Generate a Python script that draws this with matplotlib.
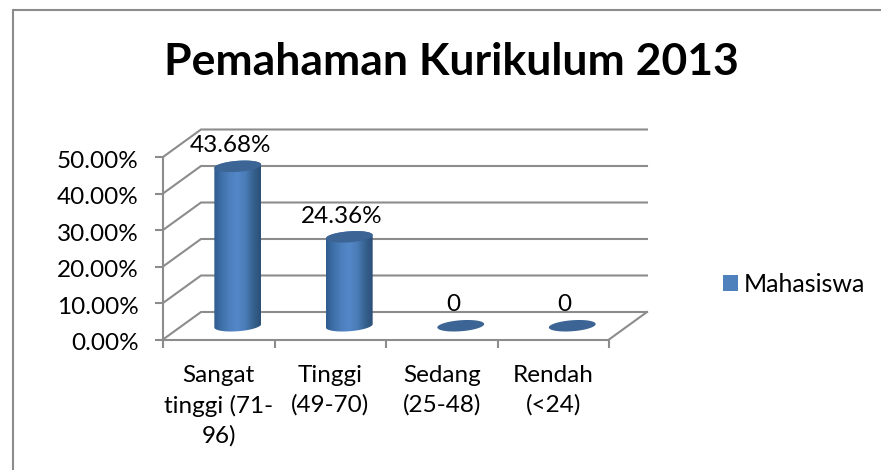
import numpy as np
import matplotlib
matplotlib.use("Agg")
import matplotlib.pyplot as plt
from matplotlib.patches import Polygon, Patch
from matplotlib.lines import Line2D
from matplotlib.colors import LinearSegmentedColormap
from matplotlib.transforms import ScaledTranslation

categories = ["Sangat\ntinggi (71-\n96)", "Tinggi\n(49-70)", "Sedang\n(25-48)", "Rendah\n(<24)"]
series_name = "Mahasiswa"
values = [43.68, 24.36, 0, 0]
value_labels = ["43.68%", "24.36%", "0", "0"]
y_ticks = [0, 10, 20, 30, 40, 50]
y_tick_labels = ["0.00%", "10.00%", "20.00%", "30.00%", "40.00%", "50.00%"]
title = "Pemahaman Kurikulum 2013"

W, H = 881, 470
plt.rcParams['font.family'] = ['Lato', 'DejaVu Sans']
fig = plt.figure(figsize=(W / 100, H / 100), dpi=100)
fig.patch.set_facecolor('white')

L, R, T, B = 163, 609, 157, 339.5
ax = fig.add_axes([L / W, 1 - B / H, (R - L) / W, (B - T) / H])
ax.set_xlim(0, 4)
ax.set_ylim(0, 50)
ax.patch.set_alpha(0)

DX = 38 / ((R - L) / 4)           # depth shift in category units
DY = 27.5 / ((B - T) / 50)        # depth shift in value units
GRID = '#8c8c8c'
LW = 1.5


def proj(x, y, d):
    return x + DX * d, y + DY * d


# walls and floor
for v in y_ticks:
    x0, y0 = proj(0, v, 0)
    x1, y1 = proj(0, v, 1)
    x2, y2 = proj(4, v, 1)
    ax.plot([x0, x1, x2], [y0, y1, y2], color=GRID, lw=LW, clip_on=False,
            solid_joinstyle='miter', zorder=1)
x0, y0 = proj(4, 0, 0)
x1, y1 = proj(4, 0, 1)
ax.plot([x0, x1], [y0, y1], color=GRID, lw=LW, clip_on=False, zorder=1)

cmap = LinearSegmentedColormap.from_list(
    'cyl', ['#2f5c90', '#3f70a9', '#4d80bd', '#5487c8', '#4a7cb8', '#36628f', '#2b4f78'])
grad = np.linspace(0, 1, 256).reshape(1, -1)

RX = 0.21                         # radius in category units
RY = 5.5 / ((B - T) / 50)         # ellipse half height
TILT = 1.7 / ((B - T) / 50)       # right side rises
t = np.linspace(0, 2 * np.pi, 121)


def ellipse(cx, cy):
    return np.column_stack([cx + RX * np.cos(t),
                            cy + RY * np.sin(t) + TILT * np.cos(t)])


for i, v in enumerate(values):
    cx, base = proj(i + 0.5, 0, 0.5)
    top = base + v
    if v > 0:
        tb = np.linspace(np.pi, 2 * np.pi, 60)
        tt = np.linspace(0, np.pi, 60)
        lower = np.column_stack([cx + RX * np.cos(tb),
                                 base + RY * np.sin(tb) + TILT * np.cos(tb)])
        upper = np.column_stack([cx + RX * np.cos(tt),
                                 top + RY * np.sin(tt) + TILT * np.cos(tt)])
        body = Polygon(np.vstack([lower, upper]), closed=True, facecolor='none',
                       edgecolor='none', transform=ax.transData)
        ax.add_patch(body)
        im = ax.imshow(grad, cmap=cmap, aspect='auto', zorder=2,
                       extent=[cx - RX, cx + RX, base - 2 * RY, top + 2 * RY])
        im.set_clip_path(body)
    ax.add_patch(Polygon(ellipse(cx, top), closed=True, facecolor='#3c6494',
                         edgecolor='none', zorder=3))
    ax.annotate(value_labels[i], (cx, top), xytext=(-5.5, 15),
                textcoords='offset points', ha='center', va='center',
                fontsize=17.5, color='black', zorder=5)

ax.set_xlim(0, 4)
ax.set_ylim(0, 50)

# axes
for s in ['top', 'right']:
    ax.spines[s].set_visible(False)
for s in ['left', 'bottom']:
    ax.spines[s].set_color(GRID)
    ax.spines[s].set_linewidth(LW)
ax.set_yticks(y_ticks)
ax.set_yticklabels(y_tick_labels, fontsize=17.5)
ax.tick_params(axis='y', length=5.5, width=LW, color=GRID, pad=12)
shift_down = ScaledTranslation(0, -2 / 100, fig.dpi_scale_trans)
for lab in ax.get_yticklabels():
    lab.set_transform(lab.get_transform() + shift_down)
ax.set_xticks(range(5))
ax.set_xticklabels([])
ax.tick_params(axis='x', which='major', length=6, width=LW, color=GRID)
ax.set_xticks([i + 0.5 for i in range(4)], minor=True)
ax.set_xticklabels(categories, minor=True, fontsize=17.5, linespacing=1.46)
ax.tick_params(axis='x', which='minor', length=0, pad=18.5)

fig.text(451 / W, 1 - 62 / H, title, ha='center', va='center',
         fontsize=32, fontweight='bold', color='black')

fig.legend(handles=[Patch(facecolor='#4f81bd', edgecolor='none', label=series_name)],
           loc='center left', bbox_to_anchor=(715 / W, 1 - 284 / H), frameon=False,
           fontsize=18, handlelength=0.62, handleheight=0.62, handletextpad=0.25,
           borderpad=0.3, borderaxespad=0)

# left and top edge of the chart frame only
fig.add_artist(Line2D([12.5 / W, 12.5 / W, 1], [0, 1 - 10 / H, 1 - 10 / H],
                      transform=fig.transFigure, color='#8c8c8c', lw=1.5,
                      solid_joinstyle='miter'))

fig.savefig('out.png', dpi=100)
